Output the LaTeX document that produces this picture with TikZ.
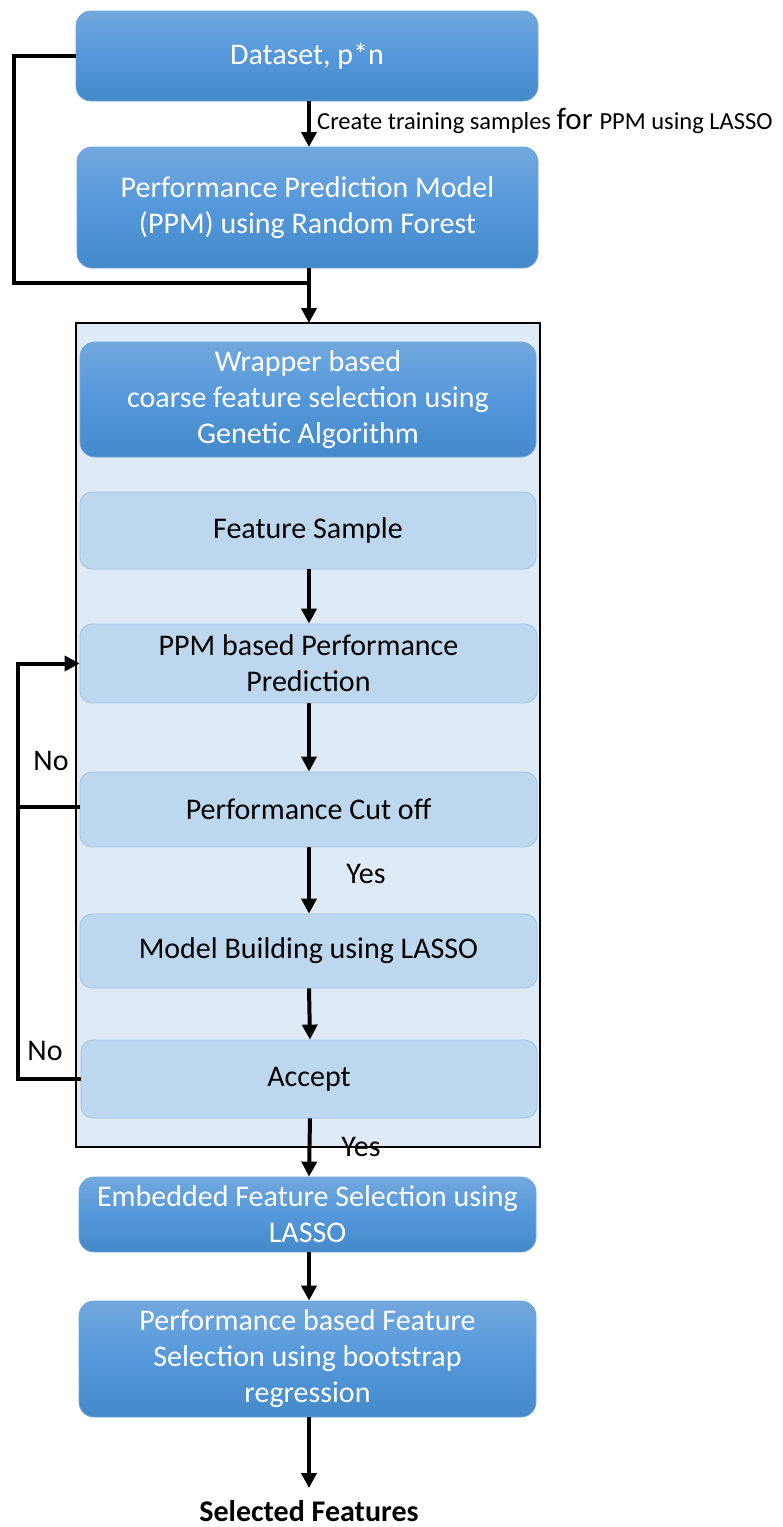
\documentclass[tikz,border=0pt]{standalone}
\usepackage{fontspec}
\setmainfont{Carlito}
\usetikzlibrary{arrows.meta}
\definecolor{darktop}{RGB}{114,168,221}
\definecolor{darkmid}{RGB}{84,152,219}
\definecolor{darkbot}{RGB}{68,137,201}
\definecolor{darkedge}{RGB}{110,165,220}
\definecolor{lightfill}{RGB}{189,215,238}
\definecolor{lightedge}{RGB}{157,195,230}
\definecolor{contfill}{RGB}{222,234,246}
\tikzset{
  darkbox/.style={rounded corners=15pt, draw=darkedge, line width=0.8pt,
    top color=darktop, bottom color=darkbot, middle color=darkmid,
    text=white, font=\fontsize{30}{36}\selectfont, align=center, inner sep=0pt},
  lightbox/.style={rounded corners=12pt, draw=lightedge, line width=0.8pt,
    fill=lightfill, text=black, font=\fontsize{30}{36}\selectfont, align=center, inner sep=0pt},
  conn/.style={line width=4pt, black},
  arr/.style={conn, -{Triangle[length=15pt,width=15pt]}},
  lbl/.style={font=\fontsize{30}{36}\selectfont, inner sep=0pt}
}
\begin{document}
\begin{tikzpicture}[x=1pt,y=-1pt]
\useasboundingbox (0,0) rectangle (783,1527);
% container
\node[draw=black, line width=2pt, fill=contfill, minimum width=464pt, minimum height=824pt, inner sep=0pt] (cont) at (308,735) {};
% boxes
\node[darkbox, minimum width=462pt, minimum height=90pt] (ds) at (307,56) {Dataset, p*n};
\node[darkbox, minimum width=461pt, minimum height=121pt] (ppm) at (307.5,207.5) {Performance Prediction Model\\(PPM) using Random Forest};
\node[darkbox, minimum width=456pt, minimum height=115pt] (wrap) at (308,399.5) {Wrapper based\\coarse feature selection using\\Genetic Algorithm};
\node[lightbox, minimum width=456pt, minimum height=77pt] (fs) at (308,530.5) {Feature Sample};
\node[lightbox, minimum width=457pt, minimum height=79pt] (pp) at (308.5,663.5) {PPM based Performance\\Prediction};
\node[lightbox, minimum width=457pt, minimum height=75pt] (pc) at (308.5,809.5) {Performance Cut off};
\node[lightbox, minimum width=457pt, minimum height=74pt] (mb) at (308.5,951) {Model Building using LASSO};
\node[lightbox, minimum width=456pt, minimum height=78pt] (acc) at (309,1079) {Accept};
\node[darkbox, minimum width=457pt, minimum height=75pt] (emb) at (307.5,1214.5) {Embedded Feature Selection using\\LASSO};
\node[darkbox, minimum width=457pt, minimum height=116pt] (pb) at (307.5,1359) {Performance based Feature\\Selection using bootstrap\\regression};
\node[anchor=north, font=\bfseries\fontsize{30}{36}\selectfont, inner sep=0pt] (sel) at (309,1500) {Selected Features};
% coordinates
\coordinate (j) at (309,283);
\coordinate (lp) at (18,807);
% connectors
\draw[arr] (309,101) -- (309,147);
\node[anchor=west, inner sep=0pt] (trainlbl) at (317,121) {\fontsize{24.5}{29}\selectfont Create training samples \fontsize{31}{36}\selectfont for \fontsize{24.5}{29}\selectfont PPM using LASSO};
\draw[conn] (ds.west) -- (14,56) |- (j);
\draw[arr] (309,268) -- (j) -- (309,323);
\draw[arr] (fs.south -| 309,0) -- (pp.north -| 309,0);
\draw[arr] (pp.south -| 309,0) -- (pc.north -| 309,0);
\draw[arr] (pc.south -| 309,0) -- (mb.north -| 309,0);
\draw[arr] (mb.south -| 309,0) -- (acc.north -| 310,0);
\draw[arr] (acc.south -| 310,0) -- (emb.north -| 309,0);
\draw[arr] (emb.south -| 309,0) -- (pb.north -| 309,0);
\draw[arr, shorten >=12pt] (pb.south -| 309,0) -- (sel.north);
\draw[arr] (80,807) -- (lp) |- (pp.west);
\draw[conn] (acc.west) -| (lp);
% labels
\node[lbl] (no1) at (51,761) {No};
\node[lbl] (no2) at (45,1051) {No};
\node[lbl] (yes1) at (366,874) {Yes};
\node[lbl] (yes2) at (361,1147) {Yes};
\end{tikzpicture}
\end{document}
